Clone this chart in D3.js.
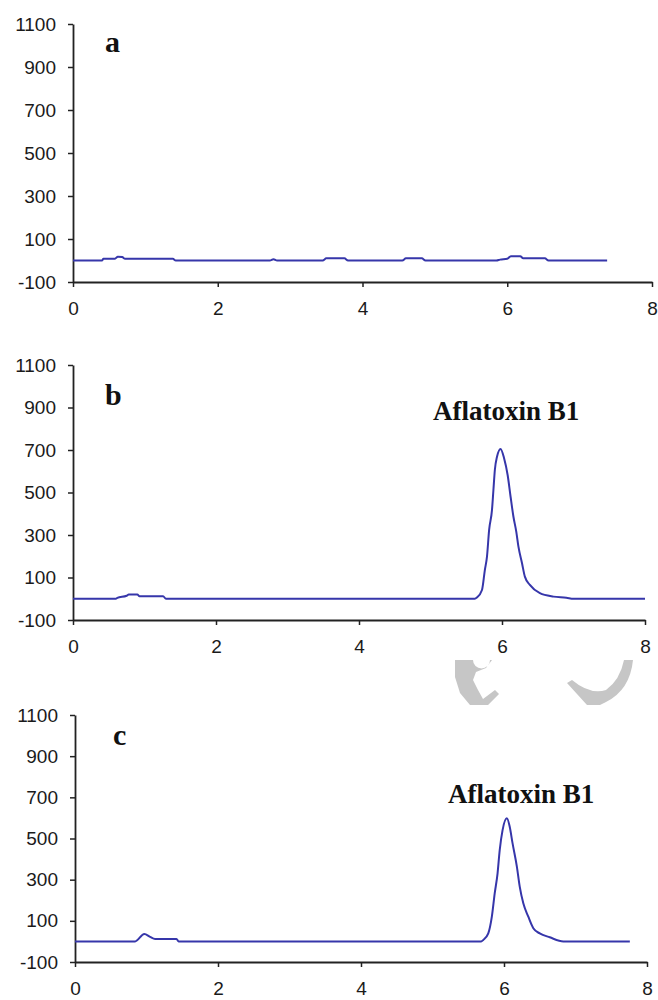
<!DOCTYPE html>
<html>
<head>
<meta charset="utf-8">
<script src="https://cdn.jsdelivr.net/npm/d3@7/dist/d3.min.js"></script>
<style>
  html, body { margin: 0; padding: 0; background: #fff; }
  svg { display: block; }
</style>
</head>
<body>
<svg id="chart" width="658" height="1000"></svg>
<script>
// ---- Data (retention time in min, detector response) ----
const xTicks = [0, 2, 4, 6, 8];
const yTicks = [-100, 100, 300, 500, 700, 900, 1100];
const panelLabels = ["a", "b", "c"];
const peakLabels = ["", "Aflatoxin B1", "Aflatoxin B1"];

const timeA  = [0, 0.40, 0.42, 0.58, 0.62, 0.68, 0.72, 1.38, 1.42, 2.72, 2.77, 2.82, 3.45, 3.50, 3.75, 3.80, 4.55, 4.60, 4.82, 4.87, 5.85, 5.90, 6.00, 6.05, 6.18, 6.22, 6.52, 6.57, 7.38];
const valueA = [0, 0, 8, 8, 18, 16, 8, 8, 0, 0, 6, 0, 0, 10, 10, 0, 0, 10, 10, 0, 0, 4, 8, 20, 20, 10, 10, 0, 0];

const timeB  = [0, 0.60, 0.62, 0.75, 0.78, 0.90, 0.93, 1.26, 1.30, 5.62, 5.65, 5.72, 5.76, 5.79, 5.82, 5.86, 5.88, 5.90, 5.93, 5.98, 6.03, 6.08, 6.12, 6.16, 6.20, 6.23, 6.28, 6.32, 6.39, 6.53, 6.72, 6.90, 7.00, 8.00];
const valueB = [0, 0, 4, 14, 20, 20, 12, 12, 0, 0, 6, 41, 135, 198, 324, 418, 512, 606, 668, 705, 660, 580, 480, 386, 315, 245, 167, 104, 65, 26, 10, 5, 0, 0];

const timeC  = [0, 0.84, 0.97, 1.05, 1.12, 1.42, 1.45, 5.68, 5.71, 5.78, 5.83, 5.87, 5.91, 5.94, 5.98, 6.04, 6.08, 6.12, 6.18, 6.22, 6.27, 6.34, 6.41, 6.50, 6.64, 6.83, 7.76];
const valueC = [0, 0, 36, 22, 12, 12, 0, 0, 7, 39, 120, 233, 331, 444, 541, 598, 557, 476, 363, 266, 185, 120, 64, 39, 20, 0, 0];

const seriesTimes  = [timeA, timeB, timeC];
const seriesValues = [valueA, valueB, valueC];

// ---- Layout ----
const panels = [
  { x0: 73, x1: 652, yTop: 24,  yBot: 282, lx: 105, ly: 52,  px: 433, py: 420 },
  { x0: 73, x1: 645, yTop: 365, yBot: 620, lx: 105, ly: 405, px: 433, py: 420 },
  { x0: 75, x1: 647, yTop: 715, yBot: 962, lx: 113, ly: 745, px: 448, py: 803 }
];

const svg = d3.select("#chart");
const lineColor = "#3636aa";
const axisColor = "#222";
const fmt = d => String(d);

// watermark fragment (decorative, light grey)
const wm = svg.append("g").attr("fill", "#c6c6c6");
wm.append("path").attr("d",
  "M455,660 L473,660 A8.5,8.5 0 0 0 490,660 L492,660 L486,668 L476,672 L473,680 L478,690 L483,699 L495,690 L499,694 L488,705 L470,705 L460,693 L455,677 Z");
wm.append("path").attr("d",
  "M567,683 L572,680 Q590,695 606,690 Q620,680 624,660 L633,660 Q630,690 606,702 L600,705 L587,705 Z");

panels.forEach((p, i) => {
  const x = d3.scaleLinear().domain([0, 8]).range([p.x0, p.x1]);
  const y = d3.scaleLinear().domain([-100, 1100]).range([p.yBot, p.yTop]);
  const g = svg.append("g");

  // y axis
  const yAxis = d3.axisLeft(y).tickValues(yTicks).tickFormat(fmt).tickSize(5).tickPadding(12).tickSizeOuter(0);
  const gy = g.append("g").attr("transform", `translate(${p.x0},0)`).call(yAxis);
  // x axis
  const xAxis = d3.axisBottom(x).tickValues(xTicks).tickFormat(fmt).tickSize(5).tickPadding(15).tickSizeOuter(0);
  const gx = g.append("g").attr("transform", `translate(0,${p.yBot})`).call(xAxis);

  [gy, gx].forEach(a => {
    a.select(".domain").attr("stroke", axisColor).attr("stroke-width", 1.8);
    a.selectAll(".tick line").attr("stroke", axisColor).attr("stroke-width", 1.5);
    a.selectAll(".tick text")
      .attr("fill", "#1a1a1a")
      .style("font-family", "'Liberation Sans', Arial, sans-serif")
      .style("font-size", "19px");
  });

  // trace
  const pts = seriesTimes[i].map((t, k) => [t, seriesValues[i][k]]);
  const line = d3.line().x(d => x(d[0])).y(d => y(d[1])).curve(d3.curveMonotoneX);
  g.append("path")
    .datum(pts)
    .attr("d", line)
    .attr("fill", "none")
    .attr("stroke", lineColor)
    .attr("stroke-width", 2)
    .attr("stroke-linejoin", "round");

  // panel letter
  g.append("text")
    .attr("x", p.lx).attr("y", p.ly)
    .text(panelLabels[i])
    .style("font-family", "'Liberation Serif', 'Times New Roman', serif")
    .style("font-weight", "bold")
    .style("font-size", "30px")
    .attr("fill", "#111");

  if (peakLabels[i]) {
    g.append("text")
      .attr("x", p.px).attr("y", p.py)
      .text(peakLabels[i])
      .style("font-family", "'Liberation Serif', 'Times New Roman', serif")
      .style("font-weight", "bold")
      .style("font-size", "27px")
      .attr("fill", "#111");
  }
});
</script>
</body>
</html>
